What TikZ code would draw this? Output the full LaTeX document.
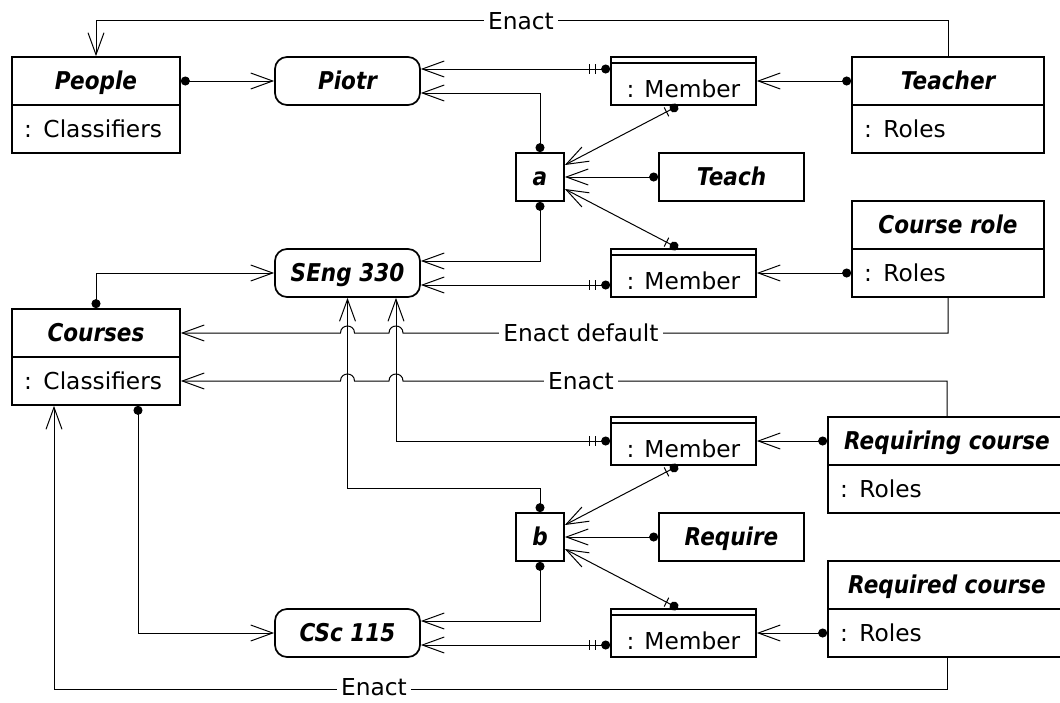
\documentclass[tikz,border=0pt]{standalone}
\usepackage{fontspec}
\setmainfont{DejaVu Sans}
\newfontfamily\hdfont[FakeStretch=0.88]{DejaVu Sans}
\usetikzlibrary{arrows.meta,calc,decorations.markings}
\tikzset{
  boxline/.style={line width=1.7pt},
  hdtext/.style={font=\hdfont\bfseries\itshape\fontsize{24.5}{28}\selectfont, text height=17.9pt, text depth=0pt},
  bodytext/.style={font=\fontsize{23.3}{28}\selectfont, text height=17pt, text depth=0pt},
  clsH/.style={draw, boxline, hdtext, inner sep=0pt, minimum height=48pt, minimum width=#1},
  clsB/.style={draw, boxline, bodytext, inner xsep=12pt, inner ysep=0pt, minimum height=48pt, text width=#1-24pt, align=left},
  inst/.style={draw, boxline, hdtext, inner sep=0pt, minimum height=48pt, minimum width=145pt, rounded corners=12pt},
  linkbox/.style={draw, boxline, hdtext, inner sep=0pt, minimum height=48pt, minimum width=48pt},
  relbox/.style={draw, boxline, hdtext, inner sep=0pt, minimum height=48pt, minimum width=145pt},
  membox/.style={draw, boxline, inner sep=0pt, minimum height=48pt, minimum width=145pt},
  memtext/.style={bodytext, inner sep=0pt},
  lbl/.style={bodytext, fill=white, inner xsep=4.5pt, inner ysep=0pt},
  conn/.style={line width=1pt},
  tick/.style={line width=1pt, arrows=-},
  dotarr/.style={{Circle[length=9pt]}->},
  ddarr/.style={{Circle[length=9pt]}->, postaction={decorate, decoration={markings,
      mark=at position 15pt with {\draw[tick] (0pt,-5pt) -- (0pt,5pt);},
      mark=at position 21pt with {\draw[tick] (0pt,-5pt) -- (0pt,5pt);}}}},
  sdarr/.style={{Circle[length=9pt]}->, postaction={decorate, decoration={markings,
      mark=at position 13pt with {\draw[tick] (0pt,-5pt) -- (0pt,5pt);}}}},
}
\begin{document}
\begin{tikzpicture}[x=1pt, y=-1pt, >={Straight Barb[length=22pt,width=16pt]}]
\useasboundingbox (0,0) rectangle (1060,702);
\clip (0,0) rectangle (1060,702);

% class boxes
\node[clsH=168pt] (peopleH) at (96,81) {People};
\node[clsB=168pt] (peopleB) at (96,129) {: Classifiers};
\node[clsH=192pt] (teacherH) at (948,81) {Teacher};
\node[clsB=192pt] (teacherB) at (948,129) {: Roles};
\node[clsH=192pt] (crH) at (948,225) {Course role};
\node[clsB=192pt] (crB) at (948,273) {: Roles};
\node[clsH=168pt] (coursesH) at (96,333) {Courses};
\node[clsB=168pt] (coursesB) at (96,381) {: Classifiers};
\node[clsH=238pt] (reqingH) at (947,441) {Requiring course};
\node[clsB=238pt] (reqingB) at (947,489) {: Roles};
\node[clsH=238pt] (reqedH) at (947,585) {Required course};
\node[clsB=238pt] (reqedB) at (947,633) {: Roles};

% instances
\node[inst] (piotr) at (347.5,81) {Piotr};
\node[inst] (seng) at (347.5,273) {SEng 330};
\node[inst] (csc) at (347.5,633) {CSc 115};

% links and relations
\node[linkbox] (a) at (540,177) {a};
\node[linkbox] (b) at (540,537) {b};
\node[relbox] (teach) at (731.5,177) {Teach};
\node[relbox] (require) at (731.5,537) {Require};

% member boxes
\foreach \n/\y in {m1/81, m2/273, m3/441, m4/633}{
  \node[membox] (\n) at (683.5,\y) {};
  \draw[boxline] ([yshift=-7pt]\n.north west) -- ([yshift=-7pt]\n.north east);
  \node[memtext] (\n t) at (683.5,\y+8) {: Member};
}

% connectors
\draw[conn,->] (teacherH.north) -- ($(teacherH.north)+(0,-36)$) -| (peopleH.north);
\draw[conn,dotarr] (peopleH.east) -- (piotr.west);
\draw[conn,ddarr] ([yshift=12pt]m1.west) -- ([yshift=12pt]piotr.east);
\draw[conn,dotarr] (a.north) |- ([yshift=-12pt]piotr.east);
\draw[conn,dotarr] (teacherH.west) -- (m1.east);
\draw[conn,sdarr] ([xshift=-5.5pt]m1.south) -- ([yshift=12pt]a.east);
\draw[conn,dotarr] (teach.west) -- (a.east);
\draw[conn,sdarr] ([xshift=-5.5pt]m2.north) -- ([yshift=-12pt]a.east);
\draw[conn,dotarr] (a.south) |- ([yshift=12pt]seng.east);
\draw[conn,ddarr] ([yshift=-12pt]m2.west) -- ([yshift=-12pt]seng.east);
\draw[conn,dotarr] (crB.west) -- (m2.east);
\draw[conn,dotarr] (coursesH.north) |- (seng.west);

% vertical connectors into SEng 330
\draw[conn,ddarr] (m3.west) -| ([xshift=48.5pt]seng.south);
\draw[conn,dotarr] (b.north) -- ($(b.north)+(0,-24)$) -| (seng.south);

% Enact default and Enact with hops
\draw[conn,->] (crB.south) -- (crB.south |- coursesH.east) -- (403,333)
  .. controls +(0,-9.33) and +(0,-9.33) .. (389,333) -- (354.5,333)
  .. controls +(0,-9.33) and +(0,-9.33) .. (340.5,333) -- (coursesH.east);
\draw[conn,->] (reqingH.north) -- (reqingH.north |- coursesB.east) -- (403,381)
  .. controls +(0,-9.33) and +(0,-9.33) .. (389,381) -- (354.5,381)
  .. controls +(0,-9.33) and +(0,-9.33) .. (340.5,381) -- (coursesB.east);

\draw[conn,dotarr] (reqingH.west) -- (m3.east);
\draw[conn,sdarr] ([xshift=-5.5pt]m3.south) -- ([yshift=12pt]b.east);
\draw[conn,dotarr] (require.west) -- (b.east);
\draw[conn,sdarr] ([xshift=-5.5pt]m4.north) -- ([yshift=-12pt]b.east);
\draw[conn,dotarr] (b.south) |- ([yshift=12pt]csc.east);
\draw[conn,ddarr] ([yshift=-12pt]m4.west) -- ([yshift=-12pt]csc.east);
\draw[conn,dotarr] (reqedB.west) -- (m4.east);
\draw[conn,dotarr] ([xshift=42pt]coursesB.south) |- (csc.west);
\draw[conn,->] (reqedB.south) -- ($(reqedB.south)+(0,32)$) -| ([xshift=-42pt]coursesB.south);

% labels
\node[lbl] (l1) at (521,21) {Enact};
\node[lbl] (l2) at (581,333) {Enact default};
\node[lbl] (l3) at (581,381) {Enact};
\node[lbl] (l4) at (374,687) {Enact};
\end{tikzpicture}
\end{document}
